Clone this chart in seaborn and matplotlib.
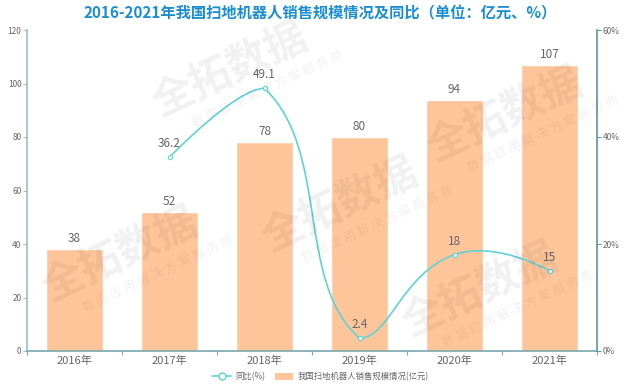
import numpy as np
import pandas as pd
import seaborn as sns
import matplotlib.pyplot as plt
from matplotlib.path import Path
from matplotlib.patches import PathPatch, Patch
from matplotlib.lines import Line2D

years = ['2016年', '2017年', '2018年', '2019年', '2020年', '2021年']
sales = [38, 52, 78, 80, 94, 107]          # 亿元
yoy_years = years[1:]
yoy = [36.2, 49.1, 2.4, 18, 15]            # %

bar_c = '#FFC59A'
line_c = '#5ED3D6'
txt_c = '#666666'

sns.set_theme(style='white')
plt.rcParams['font.family'] = ['Noto Sans CJK SC', 'DejaVu Sans']

W, H = 641, 384
fig = plt.figure(figsize=(W / 100, H / 100), dpi=100)
ax = fig.add_axes([27 / W, 33 / H, 570 / W, 321 / H])

# watermark
def watermark(cx, cy, rot=25):
    a = np.deg2rad(rot)
    fig.text(cx / W, 1 - cy / H, '全拓数据', fontsize=30, weight='bold', color='#000000',
             alpha=0.06, rotation=rot, ha='center', va='center', zorder=0)
    ox, oy = 30 * np.sin(a), 30 * np.cos(a)
    fig.text((cx + ox + 25) / W, 1 - (cy + oy - 8) / H, '数 据 应 用 解 决 方 案 服 务 商', fontsize=9,
             color='#000000', alpha=0.06, rotation=rot, ha='center', va='center', zorder=0)

for cx, cy in [(230, 70), (340, 205), (120, 255), (480, 290), (505, 115)]:
    watermark(cx, cy)

df = pd.DataFrame({'year': years, 'sales': sales})
sns.barplot(data=df, x='year', y='sales', color=bar_c, saturation=1, width=0.6, ax=ax, zorder=2)
ax.patch.set_alpha(0)
ax.set_xlim(-0.5, 5.5)
ax.set_ylim(0, 120)
ax.set_yticks(range(0, 121, 20))
ax.set_xlabel('')
ax.set_ylabel('')
for i, v in enumerate(sales):
    ax.text(i, v + 1.5, str(v), ha='center', va='bottom', fontsize=8.5, color=txt_c)

ax.set_xticks(np.arange(-0.5, 6, 1), minor=True)
ax.tick_params(axis='x', which='major', length=0, labelsize=8, labelcolor=txt_c, pad=3)
ax.tick_params(axis='x', which='minor', length=3, color='#7FA9B0', width=0.8, bottom=True)
ax.tick_params(axis='y', length=3, color='#9CC2C9', width=0.8, labelsize=6, labelcolor=txt_c, pad=1, left=True)
for s in ['top', 'right']:
    ax.spines[s].set_visible(False)
ax.spines['left'].set_color('#9CC2C9')
ax.spines['bottom'].set_color('#7FA9B0')

ax2 = ax.twinx()
ax2.set_ylim(0, 60)
ax2.set_yticks([0, 20, 40, 60])
ax2.set_yticklabels(['0%', '20%', '40%', '60%'])
ax2.tick_params(axis='y', length=3, color='#5E9A9E', width=0.8, labelsize=6, labelcolor=txt_c, pad=1, right=True)
for s in ['top', 'left', 'bottom']:
    ax2.spines[s].set_visible(False)
ax2.spines['right'].set_color('#5E9A9E')

# smooth curve (echarts-style bezier, smooth=0.5, constrained to point bounds)
xs = np.array([years.index(y) for y in yoy_years], dtype=float)
pts = ax2.transData.transform(np.column_stack([xs, yoy]))
lo, hi = pts.min(axis=0), pts.max(axis=0)
cps = []
n = len(pts)
for i in range(n):
    if i == 0 or i == n - 1:
        cps.append(pts[i]); cps.append(pts[i])
        continue
    v = (pts[i + 1] - pts[i - 1]) * 0.5
    d0 = np.hypot(*(pts[i] - pts[i - 1]))
    d1 = np.hypot(*(pts[i] - pts[i + 1]))
    d0, d1 = d0 / (d0 + d1), d1 / (d0 + d1)
    cps.append(np.clip(pts[i] - v * d0, lo, hi))
    cps.append(np.clip(pts[i] + v * d1, lo, hi))
verts = [pts[0]]
codes = [Path.MOVETO]
for i in range(n - 1):
    verts += [cps[2 * i + 1], cps[2 * (i + 1)], pts[i + 1]]
    codes += [Path.CURVE4] * 3
inv = ax2.transData.inverted()
verts = inv.transform(np.array(verts))
ax2.add_patch(PathPatch(Path(verts, codes), facecolor='none', edgecolor=line_c, lw=1.2, zorder=3))
sns.scatterplot(x=xs, y=yoy, ax=ax2, s=9, color='white', edgecolor=line_c, linewidth=0.8, zorder=4)
for x, v in zip(xs, yoy):
    ax2.text(x, v + 1.3, f'{v:g}', ha='center', va='bottom', fontsize=8.5, color=txt_c)

fig.text(0.5, 1 - 13 / H, '2016-2021年我国扫地机器人销售规模情况及同比（单位：亿元、%）',
         ha='center', va='center', fontsize=11, weight='bold', color='#1B8ED3')

handles = [Line2D([], [], color=line_c, lw=1.2, marker='o', markersize=5,
                  markerfacecolor='white', markeredgecolor=line_c),
           Patch(facecolor=bar_c, edgecolor='none')]
fig.legend(handles, ['同比(%)', '我国扫地机器人销售规模情况(亿元)'], loc='center',
           bbox_to_anchor=(0.5, 7 / H), ncol=2, frameon=False, fontsize=6,
           labelcolor=txt_c, handlelength=2.2, handleheight=1.0, columnspacing=1.2, handletextpad=0.5)

fig.savefig('out.png', dpi=100)
